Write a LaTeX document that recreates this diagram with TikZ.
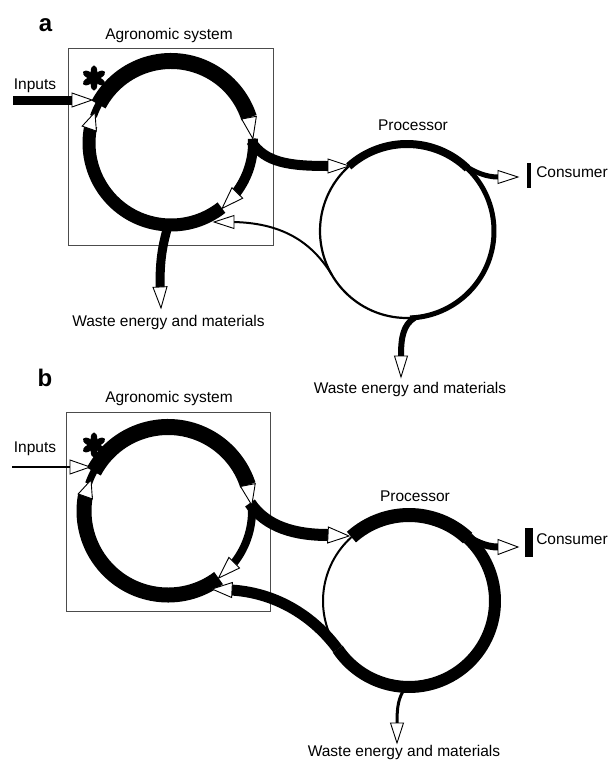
\documentclass[tikz,border=0pt]{standalone}
\usepackage{fontspec}
\setmainfont{Liberation Sans}
\usetikzlibrary{calc}
\newcommand\oarr[3]{\draw[arrowhd] (#1) -- ($(#2)!#3!90:(#1)$) -- ($(#2)!#3!-90:(#1)$) -- cycle;}
\newcommand\astk[1]{%
  \foreach \aa in {90,30,-30,-90,150,210}{%
    \fill[rotate around={\aa:(#1)}] ($(#1)+(6.3,0)$) ellipse [x radius=6.3, y radius=3.3];}}
\tikzset{
  arrowhd/.style={draw=black, fill=white, line width=0.9pt, line join=miter},
  sysbox/.style={draw=black!70, line width=1pt},
  lbl/.style={font=\fontsize{15.5}{18}\selectfont, anchor=base, inner sep=0pt},
  plbl/.style={font=\bfseries\fontsize{24}{26}\selectfont, anchor=base, inner sep=0pt},
  flow/.style={line cap=butt},
}
\begin{document}
\begin{tikzpicture}[x=1pt,y=-1pt]
\useasboundingbox (0,0) rectangle (608,761);
\fill[white] (0,0) rectangle (608,761);
% ================= panel a =================
\coordinate (A) at (171,143);
\coordinate (P) at (407,231);
\node[plbl] (la) at (45.5,31.7) {a};
\node[lbl] (ta) at (169,39.5) {Agronomic system};
\node[lbl] (ia) at (35,89.5) {Inputs};
\node[lbl] (pa) at (413,130.7) {Processor};
\node[lbl] (ca) at (572,177.3) {Consumer};
\node[lbl] (wa1) at (168.5,326.7) {Waste energy and materials};
\node[lbl] (wa2) at (410,393.3) {Waste energy and materials};
\draw[sysbox] (68,48) rectangle (273,245);
% agronomic ring
\draw[flow,line width=16] ($(A)+(-152:82)$) arc[start angle=-152,end angle=-18,radius=82];
\draw[flow,line width=10] ($(A)+(-3:82)$) arc[start angle=-3,end angle=38,radius=82];
\draw[flow,line width=13] ($(A)+(52:82)$) arc[start angle=52,end angle=192,radius=82];
\draw[flow,line width=7] ($(A)+(-161:82)$) arc[start angle=-161,end angle=-150,radius=82];
% processor ring
\draw[flow,line width=8] ($(P)+(-132:87)$) arc[start angle=-132,end angle=-46,radius=87];
\draw[flow,line width=5] ($(P)+(-46:87)$) arc[start angle=-46,end angle=88,radius=87];
\draw[flow,line width=2.2] ($(P)+(88:87)$) arc[start angle=88,end angle=228,radius=87];
% flows
\draw[flow,line width=9] (13,100) -- (73,100);
\draw[flow,line width=10] (251,141) .. controls (265,163) and (290,166) .. (328,166);
\draw[flow,line width=9] (168,226) .. controls (161,250) and (160,265) .. (160,287);
\draw[flow,line width=5] ($(P)+(-50:87)$) .. controls (474,172) and (486,177) .. (498,177);
\draw[flow,line width=4.5] (529,163) -- (529,188);
\draw[flow,line width=6] ($(P)+(85:87)$) .. controls (403,325) and (401,338) .. (401,356);
\draw[flow,line width=2] ($(P)+(-210:87)$) .. controls (314,246) and (287,223) .. (233,222);
% arrowheads
\oarr{92,100}{72,100}{7pt}
\oarr{$(A)+(-158:82)$}{$(A)+(-170:83)$}{7.5pt}
\oarr{$(A)+(-3:82)$}{$(A)+(-18:82)$}{7.5pt}
\oarr{$(A)+(52:83)$}{$(A)+(37:83)$}{7.5pt}
\oarr{214,222}{234,222}{6.5pt}
\oarr{161,308}{160,287}{7pt}
\oarr{349,166}{328,166}{7pt}
\oarr{518,177}{498,177}{6.5pt}
\oarr{401,377}{401,356}{6.5pt}
\astk{94,78}
% ================= panel b =================
\coordinate (B) at (168,511);
\coordinate (Q) at (409,601);
\node[plbl] (lb) at (45,386.7) {b};
\node[lbl] (tb) at (169,402.7) {Agronomic system};
\node[lbl] (ib) at (35,452.7) {Inputs};
\node[lbl] (pb) at (415,501.7) {Processor};
\node[lbl] (cb) at (572,544) {Consumer};
\node[lbl] (wb) at (404,756.5) {Waste energy and materials};
\draw[sysbox] (66,412) rectangle (270,611);
% agronomic ring
\draw[flow,line width=16] ($(B)+(-152:84)$) arc[start angle=-152,end angle=-18,radius=84];
\draw[flow,line width=8] ($(B)+(-4:84)$) arc[start angle=-4,end angle=38,radius=84];
\draw[flow,line width=15] ($(B)+(53:84)$) arc[start angle=53,end angle=191,radius=84];
\draw[flow,line width=7] ($(B)+(-161:84)$) arc[start angle=-161,end angle=-150,radius=84];
% processor ring
\draw[flow,line width=14] ($(Q)+(-132:86)$) arc[start angle=-132,end angle=-47,radius=86];
\draw[flow,line width=12] ($(Q)+(-47:86)$) arc[start angle=-47,end angle=146,radius=86];
\draw[flow,line width=2] ($(Q)+(146:86)$) arc[start angle=146,end angle=228,radius=86];
% flows
\draw[flow,line width=2] (12,467) -- (70,467);
\draw[flow,line width=12] (250,503) .. controls (266,527) and (295,535) .. (328,535);
\draw[flow,line width=7] ($(Q)+(-52:86)$) .. controls (474,541) and (485,547) .. (498,547);
\draw[flow,line width=8] (529,528) -- (529,557);
\draw[flow,line width=3] ($(Q)+(92:86)$) .. controls (398,697) and (397,708) .. (397,723);
\draw[flow,line width=11] ($(Q)+(-214:86)$) .. controls (318,622) and (282,593) .. (231,590);
% arrowheads
\oarr{90,467}{70,467}{7pt}
\oarr{$(B)+(-158:83)$}{$(B)+(-170:84)$}{7.5pt}
\oarr{$(B)+(-4:84)$}{$(B)+(-18:84)$}{7.5pt}
\oarr{$(B)+(53:84)$}{$(B)+(38:84)$}{7.5pt}
\oarr{212,589}{232,590}{7.5pt}
\oarr{349,536}{328,535}{8pt}
\oarr{518,547}{498,547}{7.5pt}
\oarr{397,743}{397,723}{6.5pt}
\astk{94,445}
\end{tikzpicture}
\end{document}
